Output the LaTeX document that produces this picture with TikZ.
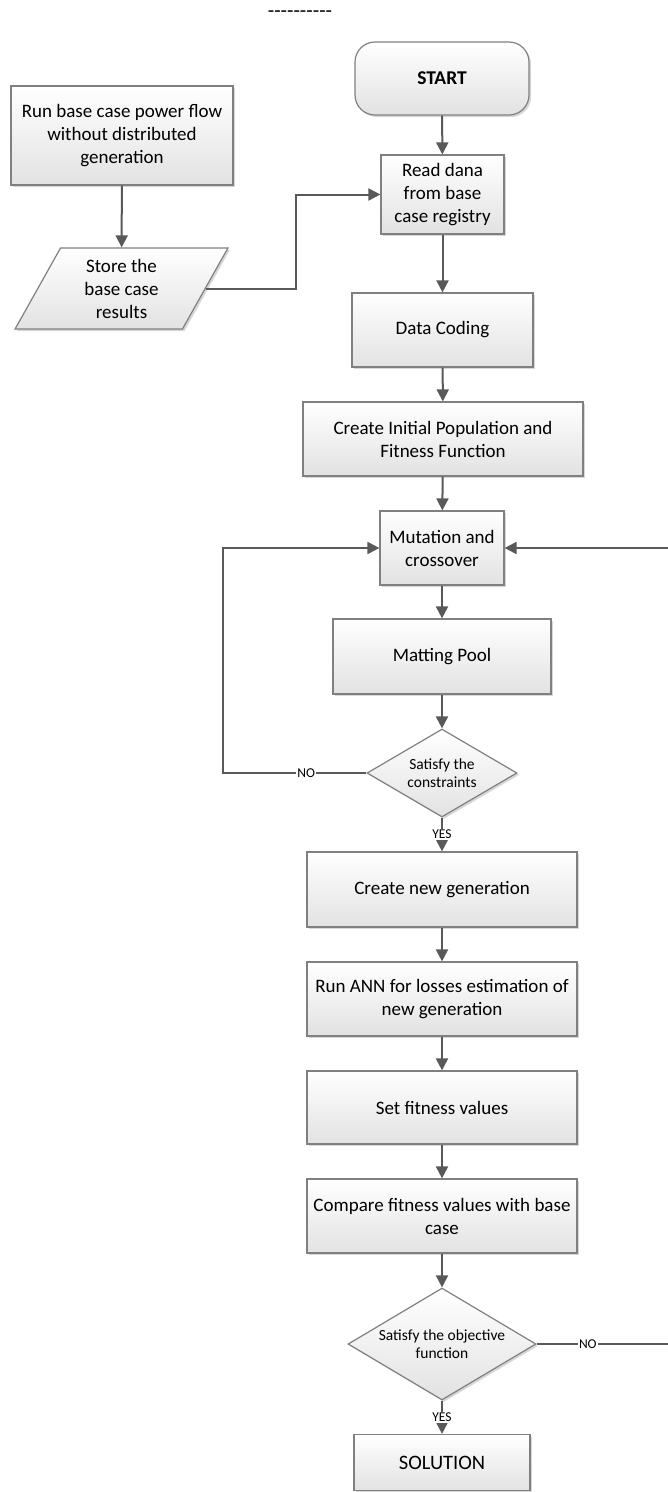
\documentclass[tikz,border=0pt]{standalone}
\usepackage{fontspec}
\setmainfont{Carlito}
\usetikzlibrary{arrows.meta,shapes.geometric,shadows}

\definecolor{linegray}{HTML}{595959}
\definecolor{boxgray}{HTML}{808080}
\definecolor{fillgray}{HTML}{E2E2E2}

\tikzset{
  procbox/.style={draw=boxgray, line width=1.2pt, top color=white, bottom color=fillgray,
    align=center, inner sep=0pt, font=\fontsize{19}{23}\selectfont,
    drop shadow={shadow xshift=2pt, shadow yshift=-2pt, fill=gray!45, opacity=0.7}},
  decision/.style={procbox, diamond, shape aspect=1.68, inner sep=1pt, font=\fontsize{15.5}{18.3}\selectfont},
  flowline/.style={draw=linegray, line width=2pt},
  arr/.style={flowline, -{Triangle[length=12pt,width=12pt]}},
  lbl/.style={fill=white, inner sep=1pt, font=\fontsize{13.5}{13.5}\selectfont}
}

\begin{document}
\begin{tikzpicture}[x=1pt,y=-1pt]
\useasboundingbox (0,0) rectangle (668,1492);

% Text Node
\node[inner sep=0pt] (dashes) at (300,14) {\fontsize{21}{21}\selectfont -{}-{}-{}-{}-{}-{}-{}-{}-{}-};

%Shape: Rounded Rect
\node[procbox, rounded corners=20pt, minimum width=174pt, minimum height=73pt, font=\fontsize{19.5}{23}\selectfont\bfseries] (start) at (442,78.5) {START};
%Shape: Rectangle
\node[procbox, minimum width=123pt, minimum height=79pt] (read) at (442.5,194.5) {Read dana\\from base\\case registry};
\node[procbox, minimum width=181pt, minimum height=74pt] (coding) at (442.5,330) {Data Coding};
\node[procbox, minimum width=280pt, minimum height=74pt] (init) at (443,439) {Create Initial Population and\\Fitness Function};
\node[procbox, minimum width=124pt, minimum height=74pt] (mutat) at (442,548) {Mutation and\\crossover};
\node[procbox, minimum width=218pt, minimum height=75pt] (pool) at (442,656.5) {Matting Pool};
%Shape: Diamond
\node[decision, minimum width=150pt, minimum height=88pt] (constr) at (442,773) {Satisfy the\\constraints};
\node[procbox, minimum width=270pt, minimum height=75pt] (newgen) at (442,889.5) {Create new generation};
\node[procbox, minimum width=270pt, minimum height=74pt] (ann) at (442,999) {Run ANN for losses estimation of\\new generation};
\node[procbox, minimum width=270pt, minimum height=73pt] (setfit) at (442,1107.5) {Set fitness values};
\node[procbox, minimum width=270pt, minimum height=74pt] (compare) at (442,1216) {Compare fitness values with base\\case};
\node[decision, minimum width=188pt, minimum height=112pt] (objfun) at (442,1344) {Satisfy the objective\\function};
\node[procbox, minimum width=176pt, minimum height=56pt, font=\fontsize{20.5}{23}\selectfont] (solution) at (442,1462.5) {SOLUTION};

% left column
\node[procbox, minimum width=222pt, minimum height=99pt] (runbase) at (122,135.5) {Run base case power flow\\without distributed\\generation};
\node[procbox, trapezium, trapezium left angle=65, trapezium right angle=115, trapezium stretches=true,
  minimum width=213pt, minimum height=81pt] (store) at (121.5,288.5) {Store the\\base case\\results};

\coordinate (loopL) at (223,773);
\coordinate (rightT) at (668,548);
\coordinate (rightB) at (668,1344);

%Straight Lines
\draw[arr] (start) -- (read);
\draw[arr] (read) -- (coding);
\draw[arr] (coding) -- (init);
\draw[arr] (init) -- (mutat);
\draw[arr] (mutat) -- (pool);
\draw[arr] (pool) -- (constr);
\draw[arr] (constr.west) -- node[lbl, pos=0.42] {NO} (loopL) |- (mutat.west);
\draw[arr] (constr.south) -- node[lbl] {YES} (newgen);
\draw[arr] (newgen) -- (ann);
\draw[arr] (ann) -- (setfit);
\draw[arr] (setfit) -- (compare);
\draw[arr] (compare) -- (objfun);
\draw[arr] (objfun.south) -- node[lbl] {YES} (solution);
\draw[flowline] (objfun.east) -- node[lbl, pos=0.39] {NO} (rightB);
\draw[arr] (rightT) -- (mutat.east);
\draw[arr] (runbase) -- (store);
\draw[arr] (store.east) -- ++(90,0) |- (read.west);

\end{tikzpicture}
\end{document}
